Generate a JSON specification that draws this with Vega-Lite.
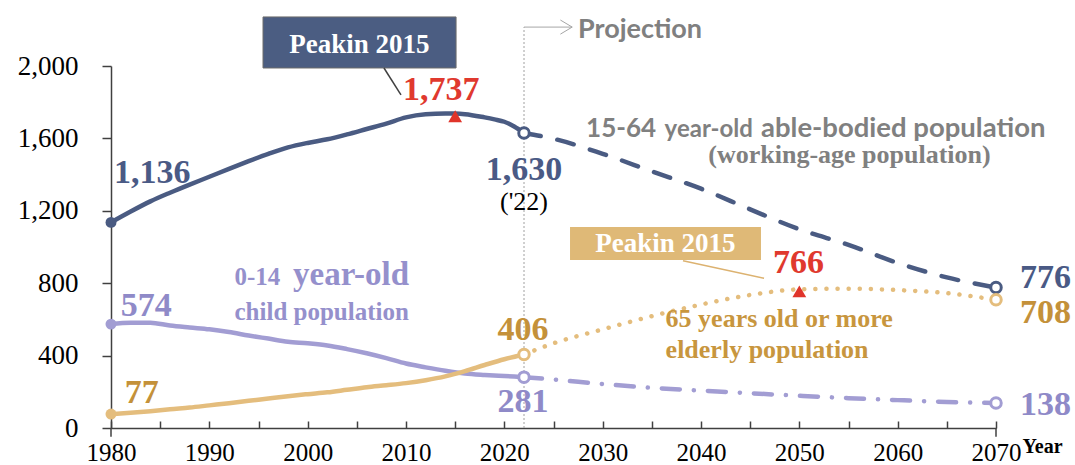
{
  "$schema": "https://vega.github.io/schema/vega-lite/v6.json",
  "width": 885,
  "height": 362,
  "autosize": {"type": "none"},
  "padding": {"left": 111, "top": 66, "right": 79, "bottom": 37},
  "background": "white",
  "config": {"view": {"stroke": null}},
  "datasets": {
    "pop": [
      {"s": "working", "p": "hist", "year": 1980, "v": 1136},
      {"s": "working", "p": "hist", "year": 1982, "v": 1196},
      {"s": "working", "p": "hist", "year": 1984, "v": 1252},
      {"s": "working", "p": "hist", "year": 1986, "v": 1300},
      {"s": "working", "p": "hist", "year": 1988, "v": 1345},
      {"s": "working", "p": "hist", "year": 1990, "v": 1388},
      {"s": "working", "p": "hist", "year": 1992, "v": 1432},
      {"s": "working", "p": "hist", "year": 1994, "v": 1474},
      {"s": "working", "p": "hist", "year": 1996, "v": 1514},
      {"s": "working", "p": "hist", "year": 1998, "v": 1550},
      {"s": "working", "p": "hist", "year": 2000, "v": 1575},
      {"s": "working", "p": "hist", "year": 2002, "v": 1595},
      {"s": "working", "p": "hist", "year": 2004, "v": 1622},
      {"s": "working", "p": "hist", "year": 2006, "v": 1652},
      {"s": "working", "p": "hist", "year": 2008, "v": 1682},
      {"s": "working", "p": "hist", "year": 2010, "v": 1716},
      {"s": "working", "p": "hist", "year": 2012, "v": 1733},
      {"s": "working", "p": "hist", "year": 2014, "v": 1737},
      {"s": "working", "p": "hist", "year": 2015, "v": 1737},
      {"s": "working", "p": "hist", "year": 2016, "v": 1734},
      {"s": "working", "p": "hist", "year": 2018, "v": 1716},
      {"s": "working", "p": "hist", "year": 2019, "v": 1705},
      {"s": "working", "p": "hist", "year": 2020, "v": 1692},
      {"s": "working", "p": "hist", "year": 2021, "v": 1666},
      {"s": "working", "p": "hist", "year": 2022, "v": 1630},
      {"s": "working", "p": "proj", "year": 2022, "v": 1630},
      {"s": "working", "p": "proj", "year": 2025, "v": 1598},
      {"s": "working", "p": "proj", "year": 2030, "v": 1515},
      {"s": "working", "p": "proj", "year": 2035, "v": 1418},
      {"s": "working", "p": "proj", "year": 2040, "v": 1322},
      {"s": "working", "p": "proj", "year": 2045, "v": 1208},
      {"s": "working", "p": "proj", "year": 2050, "v": 1098},
      {"s": "working", "p": "proj", "year": 2055, "v": 1012},
      {"s": "working", "p": "proj", "year": 2060, "v": 912},
      {"s": "working", "p": "proj", "year": 2065, "v": 832},
      {"s": "working", "p": "proj", "year": 2070, "v": 776},
      {"s": "child", "p": "hist", "year": 1980, "v": 574},
      {"s": "child", "p": "hist", "year": 1982, "v": 582},
      {"s": "child", "p": "hist", "year": 1984, "v": 582},
      {"s": "child", "p": "hist", "year": 1986, "v": 566},
      {"s": "child", "p": "hist", "year": 1988, "v": 555},
      {"s": "child", "p": "hist", "year": 1990, "v": 545},
      {"s": "child", "p": "hist", "year": 1992, "v": 530},
      {"s": "child", "p": "hist", "year": 1994, "v": 511},
      {"s": "child", "p": "hist", "year": 1996, "v": 494},
      {"s": "child", "p": "hist", "year": 1998, "v": 477},
      {"s": "child", "p": "hist", "year": 2000, "v": 468},
      {"s": "child", "p": "hist", "year": 2002, "v": 456},
      {"s": "child", "p": "hist", "year": 2004, "v": 436},
      {"s": "child", "p": "hist", "year": 2006, "v": 413},
      {"s": "child", "p": "hist", "year": 2008, "v": 386},
      {"s": "child", "p": "hist", "year": 2010, "v": 356},
      {"s": "child", "p": "hist", "year": 2012, "v": 335},
      {"s": "child", "p": "hist", "year": 2014, "v": 316},
      {"s": "child", "p": "hist", "year": 2016, "v": 301},
      {"s": "child", "p": "hist", "year": 2018, "v": 293},
      {"s": "child", "p": "hist", "year": 2020, "v": 287},
      {"s": "child", "p": "hist", "year": 2022, "v": 281},
      {"s": "child", "p": "proj", "year": 2022, "v": 281},
      {"s": "child", "p": "proj", "year": 2025, "v": 268},
      {"s": "child", "p": "proj", "year": 2030, "v": 243},
      {"s": "child", "p": "proj", "year": 2035, "v": 222},
      {"s": "child", "p": "proj", "year": 2040, "v": 207},
      {"s": "child", "p": "proj", "year": 2045, "v": 192},
      {"s": "child", "p": "proj", "year": 2050, "v": 178},
      {"s": "child", "p": "proj", "year": 2055, "v": 165},
      {"s": "child", "p": "proj", "year": 2060, "v": 154},
      {"s": "child", "p": "proj", "year": 2065, "v": 144},
      {"s": "child", "p": "proj", "year": 2070, "v": 138},
      {"s": "elderly", "p": "hist", "year": 1980, "v": 77},
      {"s": "elderly", "p": "hist", "year": 1982, "v": 84},
      {"s": "elderly", "p": "hist", "year": 1984, "v": 93},
      {"s": "elderly", "p": "hist", "year": 1986, "v": 104},
      {"s": "elderly", "p": "hist", "year": 1988, "v": 113},
      {"s": "elderly", "p": "hist", "year": 1990, "v": 125},
      {"s": "elderly", "p": "hist", "year": 1992, "v": 137},
      {"s": "elderly", "p": "hist", "year": 1994, "v": 150},
      {"s": "elderly", "p": "hist", "year": 1996, "v": 163},
      {"s": "elderly", "p": "hist", "year": 1998, "v": 176},
      {"s": "elderly", "p": "hist", "year": 2000, "v": 187},
      {"s": "elderly", "p": "hist", "year": 2002, "v": 197},
      {"s": "elderly", "p": "hist", "year": 2004, "v": 211},
      {"s": "elderly", "p": "hist", "year": 2006, "v": 225},
      {"s": "elderly", "p": "hist", "year": 2008, "v": 236},
      {"s": "elderly", "p": "hist", "year": 2010, "v": 248},
      {"s": "elderly", "p": "hist", "year": 2012, "v": 264},
      {"s": "elderly", "p": "hist", "year": 2014, "v": 285},
      {"s": "elderly", "p": "hist", "year": 2016, "v": 314},
      {"s": "elderly", "p": "hist", "year": 2018, "v": 348},
      {"s": "elderly", "p": "hist", "year": 2020, "v": 380},
      {"s": "elderly", "p": "hist", "year": 2022, "v": 406},
      {"s": "elderly", "p": "proj", "year": 2022, "v": 406},
      {"s": "elderly", "p": "proj", "year": 2025, "v": 468},
      {"s": "elderly", "p": "proj", "year": 2030, "v": 545},
      {"s": "elderly", "p": "proj", "year": 2035, "v": 618},
      {"s": "elderly", "p": "proj", "year": 2040, "v": 682},
      {"s": "elderly", "p": "proj", "year": 2045, "v": 735},
      {"s": "elderly", "p": "proj", "year": 2050, "v": 766},
      {"s": "elderly", "p": "proj", "year": 2055, "v": 770},
      {"s": "elderly", "p": "proj", "year": 2060, "v": 762},
      {"s": "elderly", "p": "proj", "year": 2065, "v": 745},
      {"s": "elderly", "p": "proj", "year": 2070, "v": 708}
    ]
  },
  "encoding": {
    "x": {
      "field": "year", "type": "quantitative",
      "scale": {"domain": [1980, 2070], "nice": false, "zero": false},
      "axis": {
        "title": null, "grid": false,
        "values": [1980, 1985, 1990, 1995, 2000, 2005, 2010, 2015, 2020, 2025, 2030, 2035, 2040, 2045, 2050, 2055, 2060, 2065, 2070],
        "labelExpr": "datum.value % 10 == 0 ? datum.value : ''",
        "tickSize": -7, "tickColor": "#404040", "tickWidth": 1.5,
        "domainColor": "#404040", "domainWidth": 1.5,
        "labelFont": "Liberation Serif", "labelFontSize": 25, "labelColor": "#000000",
        "labelBaseline": "alphabetic", "labelPadding": 39, "labelFlush": false, "labelOverlap": false
      }
    },
    "y": {
      "field": "v", "type": "quantitative",
      "scale": {"domain": [0, 2000], "nice": false},
      "axis": {
        "title": null, "grid": false,
        "values": [0, 400, 800, 1200, 1600, 2000], "format": ",d",
        "tickSize": 9, "tickColor": "#404040", "tickWidth": 1.5,
        "domainColor": "#404040", "domainWidth": 1.5,
        "labelFont": "Liberation Serif", "labelFontSize": 27, "labelColor": "#000000",
        "labelPadding": 24, "labelBaseline": "middle"
      }
    }
  },
  "layer": [
    {
      "data": {"values": [{"year": 2022, "v": 0, "v2": 2215}]},
      "mark": {"type": "rule", "color": "#a0a0a0", "strokeWidth": 1, "strokeDash": [2, 2]},
      "encoding": {"y2": {"field": "v2"}}
    },
    {
      "data": {"values": [
        {"year": 2022, "year2": 2026.9, "v": 2215, "v2": 2215},
        {"year": 2025.7, "year2": 2026.9, "v": 2254, "v2": 2215},
        {"year": 2025.7, "year2": 2026.9, "v": 2176, "v2": 2215}
      ]},
      "mark": {"type": "rule", "color": "#a6a6a6", "strokeWidth": 1},
      "encoding": {"x2": {"field": "year2"}, "y2": {"field": "v2"}}
    },
    {
      "data": {"values": [{"year": 1980, "v": 0, "v2": -48}, {"year": 2070, "v": 0, "v2": -48}]},
      "mark": {"type": "rule", "color": "#404040", "strokeWidth": 1.5},
      "encoding": {"y2": {"field": "v2"}}
    },
    {
      "data": {"name": "pop"},
      "transform": [{"filter": "datum.p == 'hist'"}],
      "mark": {"type": "line", "strokeWidth": 4.5, "interpolate": "monotone", "strokeCap": "round"},
      "encoding": {
        "color": {"field": "s", "type": "nominal", "legend": null,
          "scale": {"domain": ["working", "child", "elderly"], "range": ["#4A5B82", "#A29DD3", "#E4BD7D"]}},
        "detail": {"field": "s"}
      }
    },
    {
      "data": {"name": "pop"},
      "transform": [{"filter": "datum.p == 'proj' && datum.s == 'working'"}],
      "mark": {"type": "line", "strokeWidth": 4.5, "interpolate": "monotone", "strokeCap": "round", "strokeDash": [17, 17], "color": "#4A5B82"},
      "encoding": {}
    },
    {
      "data": {"name": "pop"},
      "transform": [{"filter": "datum.p == 'proj' && datum.s == 'elderly'"}],
      "mark": {"type": "line", "strokeWidth": 4.5, "interpolate": "monotone", "strokeCap": "round", "strokeDash": [0.1, 11], "color": "#E4BD7D"},
      "encoding": {}
    },
    {
      "data": {"name": "pop"},
      "transform": [{"filter": "datum.p == 'proj' && datum.s == 'child'"}],
      "mark": {"type": "line", "strokeWidth": 4.5, "interpolate": "monotone", "strokeCap": "round", "strokeDash": [18, 14, 0.1, 14], "color": "#A29DD3"},
      "encoding": {}
    },
    {
      "data": {"name": "pop"},
      "transform": [{"filter": "datum.year == 1980"}],
      "mark": {"type": "point", "shape": "circle", "filled": true, "size": 120, "opacity": 1},
      "encoding": {"color": {"field": "s", "type": "nominal", "legend": null}}
    },
    {
      "data": {"name": "pop"},
      "transform": [{"filter": "datum.p == 'proj' && (datum.year == 2022 || datum.year == 2070)"}],
      "mark": {"type": "point", "shape": "circle", "filled": false, "fill": "white", "fillOpacity": 1, "size": 110, "strokeWidth": 3, "opacity": 1},
      "encoding": {"stroke": {"field": "s", "type": "nominal", "legend": null,
        "scale": {"domain": ["working", "child", "elderly"], "range": ["#4A5B82", "#A29DD3", "#E4BD7D"]}}}
    },
    {
      "data": {"values": [{"year": 2015, "v": 1722}, {"year": 2050, "v": 755}]},
      "mark": {"type": "point", "shape": "triangle-up", "filled": true, "size": 190, "color": "#E0342A", "opacity": 1}
    },
    {
      "data": {"values": [{"year": 1995.46, "year2": 2015.09, "v": 2271, "v2": 1989}]},
      "mark": {"type": "rect", "color": "#4B5D82", "stroke": "#6b6b6b", "strokeWidth": 1},
      "encoding": {"x2": {"field": "year2"}, "y2": {"field": "v2"}}
    },
    {
      "data": {"values": [{"year": 2026.68, "year2": 2046.1, "v": 1110, "v2": 928}]},
      "mark": {"type": "rect", "color": "#DFB977"},
      "encoding": {"x2": {"field": "year2"}, "y2": {"field": "v2"}}
    },
    {
      "data": {"values": [{"year": 2007.76, "year2": 2009.49, "v": 1989, "v2": 1840}]},
      "mark": {"type": "rule", "color": "#404040", "strokeWidth": 1.5},
      "encoding": {"x2": {"field": "year2"}, "y2": {"field": "v2"}}
    },
    {
      "data": {"values": [{"year": 2038.17, "year2": 2046.41, "v": 924, "v2": 827}]},
      "mark": {"type": "rule", "color": "#DCB270", "strokeWidth": 1.5},
      "encoding": {"x2": {"field": "year2"}, "y2": {"field": "v2"}}
    },
    {
      "data": {"values": [{"t": "Peakin 2015", "year": 2005.27, "v": 2072}, {"t": "Peakin 2015", "year": 2036.38, "v": 970}]},
      "mark": {"type": "text", "align": "center", "baseline": "alphabetic", "font": "Liberation Serif", "fontWeight": "bold", "fontSize": 27, "color": "#ffffff"},
      "encoding": {"text": {"field": "t"}}
    },
    {
      "data": {"values": [
        {"t": "1,136", "year": 1980.3, "v": 1354},
        {"t": "1,630", "year": 2018.1, "v": 1370},
        {"t": "776", "year": 2072.44, "v": 773}
      ]},
      "mark": {"type": "text", "align": "left", "baseline": "alphabetic", "font": "Liberation Serif", "fontWeight": "bold", "fontSize": 34, "color": "#4A5A85"},
      "encoding": {"text": {"field": "t"}}
    },
    {
      "data": {"values": [
        {"t": "1,737", "year": 2009.7, "v": 1812},
        {"t": "766", "year": 2047.32, "v": 856}
      ]},
      "mark": {"type": "text", "align": "left", "baseline": "alphabetic", "font": "Liberation Serif", "fontWeight": "bold", "fontSize": 34, "color": "#E0392E"},
      "encoding": {"text": {"field": "t"}}
    },
    {
      "data": {"values": [
        {"t": "574", "year": 1981.0, "v": 619},
        {"t": "281", "year": 2019.3, "v": 90},
        {"t": "138", "year": 2072.44, "v": 72}
      ]},
      "mark": {"type": "text", "align": "left", "baseline": "alphabetic", "font": "Liberation Serif", "fontWeight": "bold", "fontSize": 34, "color": "#8F8AC8"},
      "encoding": {"text": {"field": "t"}}
    },
    {
      "data": {"values": [
        {"t": "77", "year": 1981.4, "v": 140},
        {"t": "406", "year": 2019.3, "v": 486},
        {"t": "708", "year": 2072.44, "v": 580}
      ]},
      "mark": {"type": "text", "align": "left", "baseline": "alphabetic", "font": "Liberation Serif", "fontWeight": "bold", "fontSize": 34, "color": "#C4913A"},
      "encoding": {"text": {"field": "t"}}
    },
    {
      "data": {"values": [{"t": "('22)", "year": 2022, "v": 1204}]},
      "mark": {"type": "text", "align": "center", "baseline": "alphabetic", "font": "Liberation Serif", "fontSize": 26, "color": "#000000"},
      "encoding": {"text": {"field": "t"}}
    },
    {
      "data": {"values": [
        {"t": "0-14", "year": 1992.56, "v": 790},
        {"t": "child population", "year": 1992.56, "v": 597}
      ]},
      "mark": {"type": "text", "align": "left", "baseline": "alphabetic", "font": "Liberation Serif", "fontWeight": "bold", "fontSize": 25, "color": "#9590CC"},
      "encoding": {"text": {"field": "t"}}
    },
    {
      "data": {"values": [{"t": "year-old", "year": 1998.51, "v": 790}]},
      "mark": {"type": "text", "align": "left", "baseline": "alphabetic", "font": "Liberation Serif", "fontWeight": "bold", "fontSize": 33, "color": "#9590CC"},
      "encoding": {"text": {"field": "t"}}
    },
    {
      "data": {"values": [
        {"t": "65 years old or more", "year": 2036.4, "v": 558},
        {"t": "elderly population", "year": 2036.4, "v": 387}
      ]},
      "mark": {"type": "text", "align": "left", "baseline": "alphabetic", "font": "Liberation Serif", "fontWeight": "bold", "fontSize": 26, "color": "#C8963E"},
      "encoding": {"text": {"field": "t"}}
    },
    {
      "data": {"values": [{"t": "15-64", "year": 2028.31, "v": 1608}]},
      "mark": {"type": "text", "align": "left", "baseline": "alphabetic", "font": "Lato", "fontWeight": "bold", "fontSize": 26, "color": "#808080"},
      "encoding": {"text": {"field": "t"}}
    },
    {
      "data": {"values": [{"t": "able-bodied population", "year": 2046.1, "v": 1608}]},
      "mark": {"type": "text", "align": "left", "baseline": "alphabetic", "font": "Lato", "fontWeight": "bold", "fontSize": 27.5, "color": "#808080"},
      "encoding": {"text": {"field": "t"}}
    },
    {
      "data": {"values": [{"t": "year-old", "year": 2036.3, "v": 1608}]},
      "mark": {"type": "text", "align": "left", "baseline": "alphabetic", "font": "Lato", "fontWeight": "bold", "fontSize": 24, "color": "#808080"},
      "encoding": {"text": {"field": "t"}}
    },
    {
      "data": {"values": [{"t": "(working-age population)", "year": 2055.1, "v": 1464}]},
      "mark": {"type": "text", "align": "center", "baseline": "alphabetic", "font": "Liberation Serif", "fontWeight": "bold", "fontSize": 26, "color": "#808080"},
      "encoding": {"text": {"field": "t"}}
    },
    {
      "data": {"values": [{"t": "Projection", "year": 2027.49, "v": 2155}]},
      "mark": {"type": "text", "align": "left", "baseline": "alphabetic", "font": "Lato", "fontWeight": "bold", "fontSize": 27, "color": "#808080"},
      "encoding": {"text": {"field": "t"}}
    },
    {
      "data": {"values": [{"t": "Year", "year": 2072.7, "v": -138}]},
      "mark": {"type": "text", "align": "left", "baseline": "alphabetic", "font": "Liberation Serif", "fontWeight": "bold", "fontSize": 20, "color": "#000000"},
      "encoding": {"text": {"field": "t"}}
    }
  ]
}
